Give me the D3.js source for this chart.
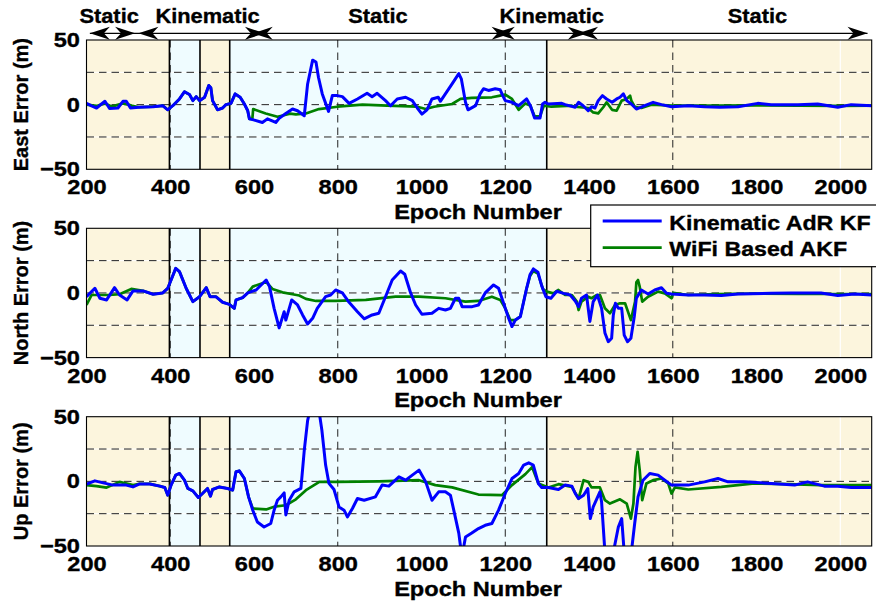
<!DOCTYPE html>
<html>
<head>
<meta charset="utf-8">
<script src="https://cdn.jsdelivr.net/npm/d3@7"></script>
<style>
  html, body { margin: 0; padding: 0; background: #fff; }
  svg { display: block; }
  text { font-family: "Liberation Sans", Arial, Helvetica, sans-serif; font-weight: bold; fill: #000; stroke: #000; stroke-width: 0.35px; }
</style>
</head>
<body>
<svg id="chart" width="876" height="601"></svg>
<script>
// ---- data -------------------------------------------------------------
const xTicks = [200, 400, 600, 800, 1000, 1200, 1400, 1600, 1800, 2000];
const yTickLabels = [-50, 0, 50];
const yGrid = [-25, 0, 25];
const xGrid = [400, 800, 1200, 1600];
const xWhiteGrid = [2000];

// motion phases behind each panel (epoch intervals)
const phaseBounds = [200, 398, 471, 542, 1299, 2075];
const phaseKinds = ["static", "kinematic", "static", "kinematic", "static"];

// arrows along the top: [start, end] epochs with the label anchor epoch
const phaseArrows = [[208, 316], [324, 626], [597, 1215], [1175, 1397], [1374, 2065]];
const phaseNames = ["Static", "Kinematic", "Static", "Kinematic", "Static"];
const phaseLabelAt = [254, 489, 896, 1311, 1802];

const panelLabels = ["East Error (m)", "North Error (m)", "Up Error (m)"];
const seriesNames = ["Kinematic AdR KF", "WiFi Based AKF"];

const eastAdr = [[200,1],[212,-1],[224,-2.6],[244,2.6],[255,-2.9],[275,-2.6],[287,2.6],[295,2.6],[305,-2.6],[325,-2],[359,-1.6],[382,-0.8],[394,-4],[406,-0.8],[422,4.4],[434,10],[446,7.8],[454,3.1],[462,6.2],[470,3.1],[482,5.7],[492,14.8],[497,13],[501,3.1],[513,-4],[525,-2.6],[533,0],[545,1],[555,8.3],[567,5.7],[577,0.5],[585,-4.7],[589,-11],[601,-12],[620,-13.8],[632,-11],[652,-13.8],[660,-10.6],[675,-7],[692,-3.4],[704,-4.7],[720,-8.6],[728,16],[740,34.4],[748,33],[754,21],[763,8.3],[778,-5.2],[787,7],[799,7],[811,6.2],[827,1],[847,4.4],[870,8.8],[882,6.2],[894,8.8],[914,3.1],[926,-0.8],[942,4.4],[962,5.7],[978,3.1],[990,-2.6],[1001,-7.3],[1013,-4],[1025,4.4],[1040,5.7],[1045,2.6],[1057,8.3],[1073,16],[1089,24],[1095,20],[1105,1.8],[1111,-4],[1129,-0.8],[1140,8.3],[1148,12.3],[1160,11],[1176,12.3],[1188,11.5],[1194,7],[1200,3.1],[1216,1.8],[1232,-0.8],[1251,4.4],[1260,-0.8],[1270,-10.4],[1283,-10.4],[1289,0.5],[1295,1.8],[1303,0.5],[1335,1],[1343,0],[1367,-2],[1375,1.8],[1386,-0.8],[1398,-4.7],[1406,-1.6],[1414,-2.6],[1422,3.1],[1432,7],[1442,4.4],[1455,1.8],[1466,4.4],[1474,5.7],[1482,8.3],[1490,3.1],[1501,0.5],[1513,-3.4],[1533,-0.8],[1553,1.8],[1573,0],[1597,-1.6],[1637,-0.8],[1676,-1.6],[1712,-2],[1756,-1.6],[1803,1],[1835,0],[1899,0],[1946,0.5],[1994,-2],[2026,0],[2075,-0.8]];
const eastWifi = [[200,0],[224,-1],[244,1],[260,-1.5],[287,1],[300,0],[310,-1],[325,-2],[359,-1.6],[382,-0.8],[394,-4],[406,-0.8],[422,4.4],[434,10],[446,7.8],[454,3.1],[462,6.2],[470,3.1],[482,5.7],[492,14.8],[497,13],[501,3.1],[513,-4],[525,-2.6],[533,0],[545,1],[555,8.3],[567,5.7],[577,0.5],[585,-4.7],[589,-11],[596,-11],[598,-3.4],[628,-6.8],[656,-9.4],[686,-7],[700,-7.5],[724,-6.8],[755,-3.4],[799,-1.6],[859,0],[918,-0.8],[990,-1.6],[1010,-3.4],[1030,-1.6],[1073,0.5],[1093,4.4],[1120,5.2],[1168,5.7],[1188,7],[1200,7.8],[1216,4.4],[1232,-4],[1248,1],[1260,-0.8],[1270,-9],[1283,-9],[1292,-0.8],[1310,-1.6],[1359,-0.8],[1367,-1.6],[1398,-2.6],[1410,-6],[1422,-6.8],[1434,-2],[1442,1.8],[1455,-4],[1466,-4.7],[1478,3.1],[1490,4.4],[1498,7],[1501,3.1],[1509,-1.6],[1525,-2.6],[1549,0],[1600,-0.8],[1700,-0.8],[1800,-0.5],[1900,-0.8],[2000,-1],[2075,-0.8]];

const northAdr = [[200,-2.9],[220,3.6],[232,-4.1],[248,-5.4],[267,4.1],[279,-1.6],[297,-5.4],[311,1.6],[335,1.6],[359,-1],[382,0],[394,3.6],[402,10],[413,19],[422,16.5],[438,3.6],[454,-6.7],[470,-2.9],[486,4.1],[495,-2.9],[509,-2.9],[525,-7.2],[541,-8.8],[553,-11.9],[557,-5.4],[573,-3.6],[585,0],[605,2.3],[629,10],[637,4.9],[648,-11.9],[660,-27],[672,-14.5],[676,-21],[690,-5.4],[704,-9.3],[716,-17],[728,-24],[740,-19.6],[751,-11.9],[771,-2.9],[783,-1.6],[795,2.3],[811,0],[827,-7.2],[847,-14.5],[863,-20],[882,-17],[898,-15.7],[914,-2.9],[930,10],[950,17],[960,14.5],[974,0],[986,-9.3],[1001,-16.5],[1025,-15.7],[1041,-11.9],[1057,-13.2],[1069,-11.9],[1081,-4.1],[1089,-4.1],[1097,-10.6],[1121,-10.6],[1136,-9.3],[1152,0],[1172,6.2],[1184,3.6],[1196,-8],[1208,-19.6],[1216,-26],[1224,-21],[1236,-18.4],[1251,3.6],[1259,14],[1267,18.6],[1278,16],[1287,5.5],[1297,-2.9],[1309,-4.1],[1323,1.3],[1339,-0.3],[1355,-1.6],[1367,-6.2],[1375,-10.6],[1382,-4.1],[1394,-1.6],[1402,-22],[1410,-6.7],[1420,-1.6],[1430,-11.9],[1438,-31],[1446,-37.7],[1454,-35],[1458,-17],[1463,-8],[1470,-11.9],[1478,-11.9],[1484,-32.6],[1492,-37.7],[1500,-35],[1508,-18.4],[1513,-4.1],[1525,2.3],[1541,-0.8],[1557,2.3],[1573,4.1],[1585,-0.3],[1597,-0.8],[1637,-1.6],[1676,-1.6],[1716,-2],[1756,-0.8],[1835,-0.3],[1883,0],[1954,0],[1994,-2],[2034,-0.8],[2075,-1.6]];
const northWifi = [[200,-9.3],[212,-1.6],[232,-1.6],[255,-1.6],[279,-1],[307,3.1],[335,1.6],[359,-1],[382,0],[394,3.6],[402,10],[413,19],[422,16.5],[438,3.6],[454,-6.7],[470,-2.9],[486,4.1],[495,-2.9],[509,-2.9],[525,-7.2],[541,-8.8],[553,-11.9],[557,-5.4],[573,-3.6],[585,0],[597,4.9],[629,8.5],[644,3.1],[668,0.5],[692,-1],[708,-2],[724,-4.6],[748,-6.2],[795,-6.2],[867,-5.4],[938,-2.9],[994,-2.9],[1057,-4.1],[1105,-6.7],[1136,-6.2],[1168,-2.9],[1188,-5.4],[1200,-11.9],[1212,-21],[1224,-21],[1236,-18],[1251,3.6],[1259,13],[1267,17],[1278,15],[1290,3],[1299,1],[1315,-0.3],[1327,2.3],[1343,-1.6],[1359,-1.6],[1371,-6.7],[1375,-13.2],[1382,-6.7],[1398,-2.9],[1406,-4.1],[1418,-1.6],[1426,-1.6],[1438,-11.9],[1450,-15.7],[1462,-9.3],[1474,-8],[1486,-8],[1500,-21],[1510,-6.7],[1513,8.3],[1517,10],[1521,4.9],[1527,-6.7],[1541,-2.9],[1565,1],[1581,-0.3],[1597,-4.1],[1601,0],[1637,-1.6],[1700,-0.8],[1800,-0.5],[1900,-0.8],[2000,-0.8],[2075,-0.8]];

const upAdr = [[200,-2.2],[220,0.4],[240,-1.2],[263,-2.9],[295,-2.9],[311,-4.3],[327,-2],[351,-2],[375,-3.7],[387,-4.8],[394,-10.7],[402,-2.9],[413,4.8],[422,6.1],[434,0.9],[442,-5.5],[454,-7.4],[467,-12.5],[477,-9.4],[489,-5.5],[496,-11.5],[501,-6.3],[517,-4.3],[537,-5.5],[549,-6.8],[557,7.4],[565,8.1],[577,2.2],[587,-12],[597,-22.3],[608,-31.4],[624,-35.3],[640,-32.6],[648,-22.3],[656,-14.6],[664,-12],[672,-8.9],[676,-26],[684,-14.6],[696,-8.1],[712,-5.5],[720,24],[728,47],[735,57],[745,60],[755,55],[762,39.7],[771,12.6],[779,-1.6],[791,-6.3],[803,-19.8],[815,-22.3],[823,-27.5],[835,-21],[847,-13.3],[863,-14.6],[890,-12],[906,-2.9],[922,-3.7],[946,3.5],[962,0.9],[978,4.8],[994,8.7],[1001,4.8],[1010,-0.4],[1025,-14.6],[1041,-8.1],[1057,-8.1],[1069,-10.7],[1077,-22.3],[1089,-40],[1095,-55],[1100,-52],[1105,-43],[1120,-40],[1136,-36.5],[1152,-34],[1168,-32.6],[1184,-22.3],[1200,-9.4],[1216,2.2],[1232,6.1],[1244,12.6],[1256,14.3],[1267,12.6],[1279,-1.6],[1287,-4.7],[1303,-4.7],[1327,-6.3],[1343,-2.9],[1359,-3.7],[1367,-9.4],[1375,-13.3],[1387,-10.7],[1397,-5.5],[1403,-28.8],[1410,-19.8],[1426,-8.1],[1430,-15.9],[1438,-55],[1448,-65],[1458,-55],[1470,-35.3],[1478,-28.8],[1484,-55],[1492,-65],[1501,-55],[1509,-32.6],[1517,-12],[1529,0.9],[1545,6.1],[1565,4.8],[1581,0.9],[1597,-2.9],[1637,-2.9],[1676,-0.4],[1708,2.2],[1732,-0.4],[1772,-0.4],[1835,-1.6],[1891,-2.9],[1922,-0.4],[1962,-3.7],[1994,-3.7],[2026,-4.7],[2075,-4.7]];
const upWifi = [[200,-2.9],[224,-3.7],[248,-4.8],[279,-0.4],[311,-2.9],[327,-2],[351,-2],[375,-3.7],[387,-4.8],[394,-10.7],[402,-2.9],[413,4.8],[422,6.1],[434,0.9],[442,-5.5],[454,-7.4],[467,-12.5],[477,-9.4],[489,-5.5],[496,-11.5],[501,-6.3],[517,-4.3],[537,-5.5],[549,-6.8],[557,7.4],[565,8.1],[577,2.2],[587,-12],[597,-21],[629,-21.7],[648,-19.6],[676,-18.5],[700,-13.9],[724,-6.8],[756,-0.4],[799,-0.4],[898,0],[994,0.9],[1033,-2.9],[1073,-4.7],[1136,-10.2],[1192,-10.7],[1216,-2.9],[1248,5.6],[1264,11],[1279,-1.6],[1303,-4.7],[1327,-2.2],[1359,-4.3],[1375,-13.3],[1387,0.9],[1398,-0.4],[1406,-4.7],[1426,-4.7],[1438,-14.6],[1450,-17.2],[1474,-13.9],[1490,-17.2],[1500,-28.8],[1506,-17.2],[1511,11.2],[1516,22.9],[1521,8.7],[1527,-14.6],[1537,-1.6],[1553,0.9],[1573,2.2],[1589,-1.6],[1597,-9.4],[1605,-4.7],[1637,-6.3],[1716,-4.3],[1795,-1.6],[1875,-2.2],[1954,-2.9],[2075,-2.9]];

const panelSeries = [[eastAdr, eastWifi], [northAdr, northWifi], [upAdr, upWifi]];

// ---- layout -------------------------------------------------------------
const svg = d3.select("#chart");
const panelTops = [40, 228.3, 416.7];
const panelH = 129.3;
const left = 86.5, right = 871.7;
const seriesColors = ["#0000ff", "#008000"];
const phaseFill = { static: "#fcf5dd", kinematic: "#effcff" };
const textStretch = 1.18;

const x = d3.scaleLinear().domain([200, 2075]).range([left, right]);

function stretch(sel, sx) {
  sel.each(function () {
    const t = d3.select(this);
    const tx = +t.attr("x") || 0, ty = +t.attr("y") || 0;
    t.attr("x", 0).attr("y", 0).attr("transform", `translate(${tx},${ty}) scale(${sx},1)`);
  });
}

const defs = svg.append("defs");

panelTops.forEach((top, i) => {
  const y = d3.scaleLinear().domain([-50, 50]).range([top + panelH, top]);
  const g = svg.append("g");

  defs.append("clipPath").attr("id", "clip" + i)
    .append("rect").attr("x", left).attr("y", top).attr("width", right - left).attr("height", panelH);

  // phase shading
  g.selectAll("rect.phase").data(phaseKinds).join("rect")
    .attr("class", "phase")
    .attr("x", (d, j) => x(phaseBounds[j]))
    .attr("width", (d, j) => x(phaseBounds[j + 1]) - x(phaseBounds[j]))
    .attr("y", top).attr("height", panelH)
    .attr("fill", d => phaseFill[d]);

  // white grid underneath
  g.selectAll("line.wh").data(yGrid).join("line")
    .attr("class", "wh")
    .attr("x1", left).attr("x2", right)
    .attr("y1", d => y(d)).attr("y2", d => y(d))
    .attr("stroke", "#fff").attr("stroke-width", 1);
  g.selectAll("line.wv").data(xWhiteGrid).join("line")
    .attr("class", "wv")
    .attr("x1", d => x(d)).attr("x2", d => x(d))
    .attr("y1", top).attr("y2", top + panelH)
    .attr("stroke", "#fff").attr("stroke-width", 1.2);

  // dashed grid
  g.selectAll("line.gh").data(yGrid).join("line")
    .attr("class", "gh")
    .attr("x1", left).attr("x2", right)
    .attr("y1", d => y(d)).attr("y2", d => y(d))
    .attr("stroke", "#222").attr("stroke-width", 1).attr("stroke-dasharray", "7.5,5");
  g.selectAll("line.gv").data(xGrid).join("line")
    .attr("class", "gv")
    .attr("x1", d => x(d)).attr("x2", d => x(d))
    .attr("y1", top).attr("y2", top + panelH)
    .attr("stroke", "#222").attr("stroke-width", 1).attr("stroke-dasharray", "7.5,5");

  // phase boundaries
  g.selectAll("line.pb").data(phaseBounds.slice(1, -1)).join("line")
    .attr("class", "pb")
    .attr("x1", d => x(d)).attr("x2", d => x(d))
    .attr("y1", top).attr("y2", top + panelH)
    .attr("stroke", "#000").attr("stroke-width", 1.6);

  // series (WiFi underneath, AdR on top)
  const line = d3.line().x(d => x(d[0])).y(d => y(d[1]));
  const lg = g.append("g").attr("clip-path", `url(#clip${i})`);
  [1, 0].forEach(k => {
    lg.append("path").datum(panelSeries[i][k])
      .attr("d", line)
      .attr("fill", "none")
      .attr("stroke", seriesColors[k])
      .attr("stroke-width", k === 0 ? 3 : 2.7)
      .attr("stroke-linejoin", "round");
  });

  // frame
  g.append("rect").attr("x", left).attr("y", top).attr("width", right - left).attr("height", panelH)
    .attr("fill", "none").attr("stroke", "#000").attr("stroke-width", 1.1);

  // axes
  const xa = g.append("g").attr("transform", `translate(0,${top + panelH})`)
    .call(d3.axisBottom(x).tickValues(xTicks).tickSize(0).tickFormat(d3.format("d")));
  xa.select(".domain").remove();
  xa.selectAll("text").attr("y", 25).attr("dy", null)
    .style("font-size", "20px").style("font-family", null)
    .call(stretch, textStretch);

  const ya = g.append("g").attr("transform", `translate(${left},0)`)
    .call(d3.axisLeft(y).tickValues(yTickLabels).tickSize(0).tickFormat(d3.format("d")));
  ya.select(".domain").remove();
  ya.selectAll("text").attr("x", -6.5)
    .style("font-size", "20px").style("font-family", null)
    .call(stretch, textStretch);

  // axis titles
  g.append("text").attr("x", 478).attr("y", top + panelH + 49.5)
    .attr("text-anchor", "middle").style("font-size", "20px")
    .text("Epoch Number").call(stretch, textStretch);

  g.append("text")
    .attr("transform", `translate(28,${top + panelH / 2}) rotate(-90)`)
    .attr("text-anchor", "middle").style("font-size", "20px")
    .text(panelLabels[i]);
});

// ---- phase arrows along the top -----------------------------------------
const arrowY = 33.3;
const ag = svg.append("g");
ag.append("line")
  .attr("x1", x(phaseArrows[0][0])).attr("x2", x(phaseArrows[phaseArrows.length - 1][1]))
  .attr("y1", arrowY).attr("y2", arrowY)
  .attr("stroke", "#000").attr("stroke-width", 1.3);

function head(tip, dir) {
  const L = 20, h = 6.5, n = 14;
  return `M${tip},${arrowY} L${tip - dir * L},${arrowY - h} L${tip - dir * n},${arrowY} L${tip - dir * L},${arrowY + h} Z`;
}
phaseArrows.forEach(([a, b]) => {
  ag.append("path").attr("d", head(x(a), -1)).attr("fill", "#000");
  ag.append("path").attr("d", head(x(b), 1)).attr("fill", "#000");
});
ag.selectAll("text").data(phaseNames).join("text")
  .attr("x", (d, j) => x(phaseLabelAt[j])).attr("y", 23)
  .attr("text-anchor", "middle").style("font-size", "21px")
  .text(d => d).call(stretch, 1.04);

// ---- legend --------------------------------------------------------------
const leg = svg.append("g");
leg.append("rect").attr("x", 590.7).attr("y", 205).attr("width", 300).attr("height", 61.7)
  .attr("fill", "#fff").attr("stroke", "#000").attr("stroke-width", 1.2);
const legRows = [221, 247.7];
seriesNames.forEach((name, k) => {
  leg.append("line").attr("x1", 602.7).attr("x2", 661.7)
    .attr("y1", legRows[k]).attr("y2", legRows[k])
    .attr("stroke", seriesColors[k]).attr("stroke-width", 2.8);
  leg.append("text").attr("x", 669.3).attr("y", legRows[k] + 8.5)
    .style("font-size", "20px").text(name).call(stretch, 1.16);
});
</script>
</body>
</html>
